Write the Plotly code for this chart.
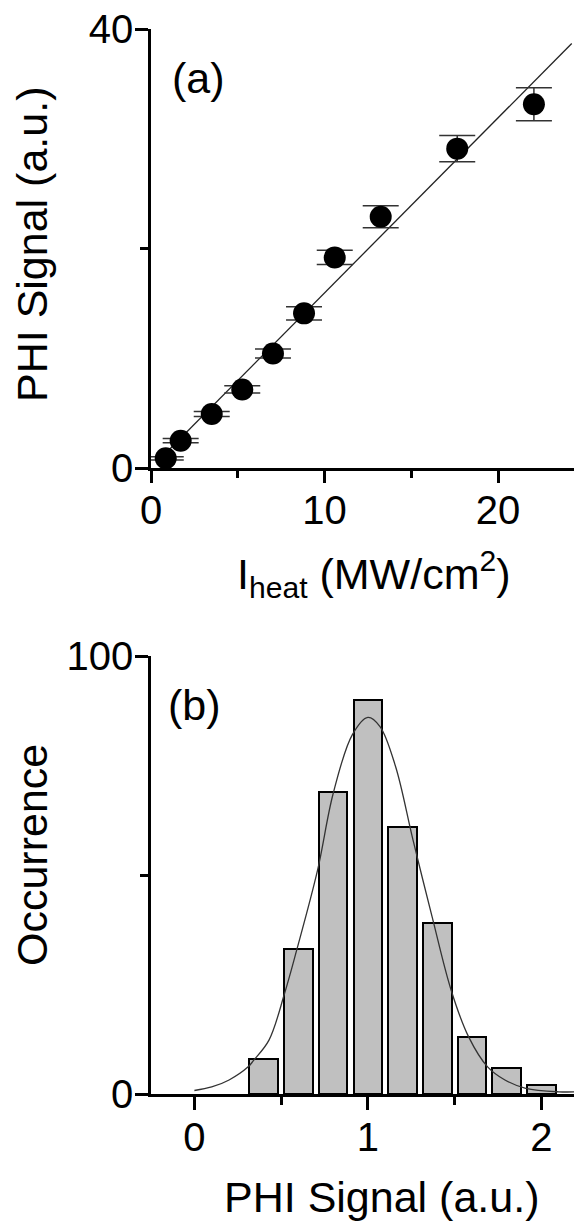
import plotly.graph_objects as go

# ---------- data: panel (a) ----------
intensity = [0.85, 1.71, 3.50, 5.26, 7.03, 8.82, 10.59, 13.24, 17.65, 22.07]
signal = [0.88, 2.49, 4.92, 7.16, 10.44, 14.09, 19.19, 22.9, 29.1, 33.15]
signal_err = [0.15, 0.2, 0.23, 0.33, 0.41, 0.6, 0.64, 1.0, 1.2, 1.5]
fit_x = [0.3, 24.25]
fit_y = [0.48, 38.68]

# ---------- data: panel (b) ----------
bin_centers = [0.4, 0.6, 0.8, 1.0, 1.2, 1.4, 1.6, 1.8, 2.0]
counts = [8, 33, 69, 90, 61, 39, 13, 6, 2]
curve_x = [0.0, 0.1, 0.2, 0.31, 0.34, 0.43, 0.52, 0.59, 0.71, 0.80, 0.91, 1.0,
           1.07, 1.16, 1.26, 1.37, 1.48, 1.58, 1.69, 1.79, 1.91, 2.1, 2.21]
curve_y = [0.8, 1.6, 3.2, 6.2, 7.6, 12.3, 23.0, 32.9, 51.1, 68.6, 82.0, 86.0,
           83.9, 74.7, 58.0, 40.5, 23.7, 13.1, 6.2, 3.2, 1.3, 0.5, 0.5]

OFF = 8  # page body margin of the browser
W, H = 582 - OFF, 1226 - OFF
L, R = 151 - OFF, 0
FONT = "Liberation Sans, Arial, sans-serif"

def py(p):
    return 1 - (p - OFF) / H

def pxp(p):
    return (p - OFF - L) / (W - L - R)

fig = go.Figure()

fig.add_trace(go.Scatter(
    x=fit_x, y=fit_y, mode="lines",
    line=dict(color="#222222", width=1.3),
    xaxis="x", yaxis="y", showlegend=False))
fig.add_trace(go.Scatter(
    x=intensity, y=signal, mode="markers",
    marker=dict(color="black", size=22),
    error_y=dict(type="data", array=signal_err, color="#333333", thickness=1.5, width=18),
    xaxis="x", yaxis="y", showlegend=False))

fig.add_trace(go.Bar(
    x=bin_centers, y=counts, width=0.165,
    marker=dict(color="#c0c0c0", line=dict(color="black", width=2)),
    xaxis="x2", yaxis="y2", showlegend=False))
fig.add_trace(go.Scatter(
    x=curve_x, y=curve_y, mode="lines", line_shape="spline",
    line=dict(color="#333333", width=1.3),
    xaxis="x2", yaxis="y2", showlegend=False))

top_dom = [py(468), py(29)]
bot_dom = [py(1094), py(656)]
xr_a = [0, (W - L - R) / 17.35]
xr_b = [-0.25, -0.25 + (W - L - R) / 173.5]

tickfont = dict(family=FONT, size=40, color="black")
common = dict(showgrid=False, zeroline=False, showline=True, linecolor="black",
              linewidth=2.5, tickcolor="black", tickwidth=2.5, tickfont=tickfont,
              ticklabeloverflow="allow")

fig.update_layout(
    width=W, height=H, template="none",
    paper_bgcolor="white", plot_bgcolor="white",
    margin=dict(l=L, r=R, t=0, b=0),
    bargap=0,
    xaxis=dict(**common, domain=[0, 1], anchor="y", range=xr_a, tickmode="linear",
               tick0=0, dtick=10, ticks="outside", ticklen=12, ticklabelstandoff=-7,
               minor=dict(dtick=5, ticklen=7, ticks="outside", tickcolor="black", tickwidth=2.5)),
    yaxis=dict(**common, domain=top_dom, anchor="x", range=[0, 40], tickmode="linear",
               tick0=0, dtick=40, ticks="outside", ticklen=13, ticklabelstandoff=-6,
               minor=dict(dtick=20, ticklen=8, ticks="outside", tickcolor="black", tickwidth=2.5)),
    xaxis3=dict(**common, overlaying="x", anchor="y", side="top", range=xr_a,
                tickmode="linear", tick0=0, dtick=10, ticks="inside", ticklen=12,
                showticklabels=False,
                minor=dict(dtick=5, ticklen=6, ticks="inside", tickcolor="black", tickwidth=2.5)),
    yaxis3=dict(showgrid=False, zeroline=False, showline=False, overlaying="y", anchor="x",
                side="right", range=[0, 40], tickmode="linear", tick0=0, dtick=20,
                ticks="inside", ticklen=6, tickwidth=2.5, tickcolor="black",
                showticklabels=False),
    xaxis2=dict(**common, domain=[0, 1], anchor="y2", range=xr_b, tickmode="linear",
                tick0=0, dtick=1, ticks="outside", ticklen=13, ticklabelstandoff=-7,
                minor=dict(dtick=0.5, ticklen=8, ticks="outside", tickcolor="black", tickwidth=2.5)),
    yaxis2=dict(**common, domain=bot_dom, anchor="x2", range=[0, 100], tickmode="linear",
                tick0=0, dtick=100, ticks="outside", ticklen=13, ticklabelstandoff=-6,
                minor=dict(dtick=50, ticklen=8, ticks="outside", tickcolor="black", tickwidth=2.5)),
    xaxis4=dict(**common, overlaying="x2", anchor="y2", side="top", range=xr_b,
                tickmode="linear", tick0=0, dtick=1, ticks="inside", ticklen=12,
                showticklabels=False,
                minor=dict(dtick=0.5, ticklen=6, ticks="inside", tickcolor="black", tickwidth=2.5)),
    yaxis4=dict(showgrid=False, zeroline=False, showline=False, overlaying="y2", anchor="x2",
                side="right", range=[0, 100], tickmode="linear", tick0=0, dtick=50,
                ticks="inside", ticklen=6, tickwidth=2.5, tickcolor="black",
                showticklabels=False),
)

tf = dict(family=FONT, size=43, color="black")
ann = [
    dict(text="(a)", x=pxp(198), y=py(78), xanchor="center", yanchor="middle"),
    dict(text="(b)", x=pxp(194), y=py(705), xanchor="center", yanchor="middle"),
    dict(text="PHI Signal (a.u.)", x=pxp(32), y=py(245), textangle=-90,
         xanchor="center", yanchor="middle"),
    dict(text="Occurrence", x=pxp(32), y=py(855), textangle=-90,
         xanchor="center", yanchor="middle"),
    dict(text="I<sub>heat</sub> (MW/cm<sup>2</sup>)", x=pxp(374), y=py(574),
         xanchor="center", yanchor="middle"),
    dict(text="PHI Signal (a.u.)", x=pxp(381), y=py(1197),
         xanchor="center", yanchor="middle"),
]
for a in ann:
    fig.add_annotation(xref="paper", yref="paper", showarrow=False, font=tf, **a)

fig.write_html("out.html")
